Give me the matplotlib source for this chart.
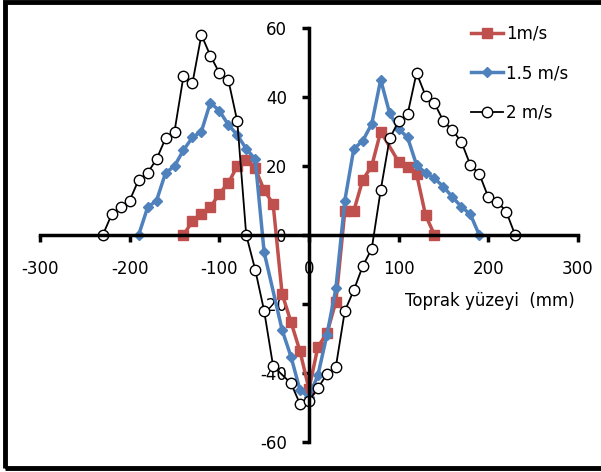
import numpy as np
import matplotlib.pyplot as plt
from matplotlib.patches import Rectangle

plt.rcParams["axes.unicode_minus"] = False

# 1 m/s
x1 = [-140, -130, -120, -110, -100, -90, -80, -70, -60, -50, -40, -30, -20, -10, 0,
      10, 20, 30, 40, 50, 60, 70, 80, 100, 110, 120, 130, 140]
y1 = [0, 4, 6, 8, 12, 15, 20, 21.7, 19.3, 13, 9, -17, -25.3, -33.7, -44.7,
      -32.4, -28.5, -19.3, 7, 7, 16, 20, 30, 21.2, 19.8, 17.7, 5.8, 0]

# 1.5 m/s
x2 = [-190, -180, -170, -160, -150, -140, -130, -120, -110, -100, -90, -80, -70, -60,
      -50, -30, -20, -10, 0, 10, 20, 30, 40, 50, 60, 70, 80, 90, 100, 110, 120,
      130, 140, 150, 160, 170, 180, 190]
y2 = [0, 8, 10, 18, 20, 24.6, 28.3, 30, 38.4, 36, 32, 29, 25, 22,
      -5, -27.5, -35.3, -45, -47, -40.6, -29, -15.5, 10, 25, 27.3, 32.2, 45, 35.3, 30.7, 28.3, 20.3,
      18, 16.4, 14, 11, 8.2, 6, 0]

# 2 m/s
x3 = [-230, -220, -210, -200, -190, -180, -170, -160, -150, -140, -130, -120, -110, -100,
      -90, -80, -70, -60, -50, -40, -20, -10, 0, 10, 20, 30, 40, 50, 60, 70, 80, 90,
      100, 110, 120, 130, 140, 150, 160, 170, 180, 190, 200, 210, 220, 230]
y3 = [0, 6, 8, 10, 16, 18, 22, 28, 30, 46, 44, 58, 52, 47,
      45, 33, 0, -10, -22, -38, -43, -49, -48, -44.4, -40.3, -38.2, -22, -16, -9, -4, 13, 28,
      33, 35, 47, 40.4, 38.2, 33, 30.4, 27, 20.3, 17.7, 11, 9.7, 6.8, 0]

fig = plt.figure(figsize=(6.01, 4.72), dpi=100)
ax = fig.add_axes([0.0666, 0.0636, 0.895, 0.877])

ax.plot(x1, y1, color="#C0504D", lw=2.5, marker="s", ms=6.5, label="1m/s")
ax.plot(x2, y2, color="#4F81BD", lw=2.5, marker="D", ms=5, label="1.5 m/s")
ax.plot(x3, y3, color="black", lw=1.3, marker="o", ms=7.5, mfc="white",
        mec="black", mew=1.0, label="2 m/s")

ax.set_xlim(-300, 300)
ax.set_ylim(-60, 60)
ax.set_xticks(np.arange(-300, 301, 100))
ax.set_yticks(np.arange(-60, 61, 20))

for s in ["top", "right"]:
    ax.spines[s].set_visible(False)
ax.spines["left"].set_position(("data", 0))
ax.spines["bottom"].set_position(("data", 0))
ax.spines["left"].set_linewidth(2.5)
ax.spines["bottom"].set_linewidth(2.5)
ax.tick_params(axis="both", direction="out", length=5, width=2.5, labelsize=12)
ax.tick_params(axis="x", pad=13)
ax.tick_params(axis="y", pad=11)

ax.text(297, -19, "Toprak yüzeyi  (mm)", ha="right", va="center", fontsize=12)

ax.legend(loc="upper right", bbox_to_anchor=(1.01, 1.045), frameon=False, fontsize=12,
          labelspacing=1.3, handlelength=1.9, handletextpad=0.2)

fig.patches.append(Rectangle((0.0085, 0.0085), 1.2, 0.9875, transform=fig.transFigure,
                             fill=False, lw=3.5, ec="black"))

fig.savefig("out.png", dpi=100)
